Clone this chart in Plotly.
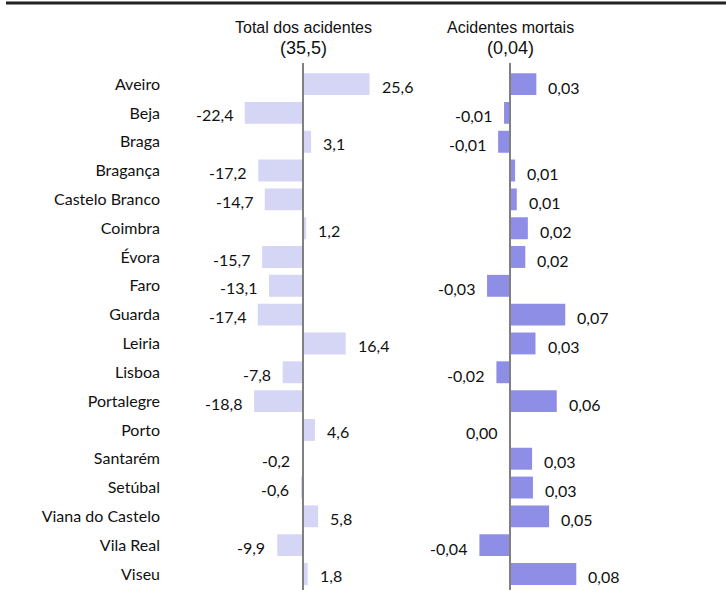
import plotly.graph_objects as go

districts = ["Aveiro", "Beja", "Braga", "Bragança", "Castelo Branco", "Coimbra", "Évora", "Faro",
             "Guarda", "Leiria", "Lisboa", "Portalegre", "Porto", "Santarém", "Setúbal",
             "Viana do Castelo", "Vila Real", "Viseu"]
total_acidentes = [25.6, -22.4, 3.1, -17.2, -14.7, 1.2, -15.7, -13.1, -17.4, 16.4, -7.8, -18.8,
                   4.6, -0.2, -0.6, 5.8, -9.9, 1.8]
acidentes_mortais = [0.031, -0.007, -0.014, 0.006, 0.008, 0.021, 0.018, -0.027, 0.065, 0.030,
                     -0.016, 0.055, -0.001, 0.026, 0.027, 0.046, -0.036, 0.078]
title_total = "Total dos acidentes<br><span style='font-size:18px'>(35,5)</span>"
title_mortais = "Acidentes mortais<br><span style='font-size:18px'>(0,04)</span>"

W, H = 726, 595
LIGHT = "#D5D5F5"
DARK = "#8E8EE6"
AXC = "#808080"
LABEL_FONT = dict(family="Lato, Open Sans, sans-serif", size=16, color="#111111")
TITLE_FONT = dict(family="Liberation Sans, Arial, sans-serif", size=16, color="#111111")

def fmt(v, d):
    return f"{v:.{d}f}".replace(".", ",")

fig = go.Figure()
fig.add_trace(go.Bar(x=total_acidentes, y=districts, orientation="h", marker_color=LIGHT,
                     marker_line_width=0, xaxis="x", yaxis="y", showlegend=False))
fig.add_trace(go.Bar(x=acidentes_mortais, y=districts, orientation="h", marker_color=DARK,
                     marker_line_width=0, xaxis="x2", yaxis="y", showlegend=False))

y_bottom = (H - 588.4) / H
y_top = (H - 69.6) / H

ann = []
for cat, v in zip(districts, total_acidentes):
    ann.append(dict(x=v, y=cat, xref="x", yref="y", text=fmt(v, 1), showarrow=False,
                    xanchor="left" if v >= 0 else "right", xshift=10 if v >= 0 else -10,
                    yshift=-2, font=LABEL_FONT))
for cat, v in zip(districts, acidentes_mortais):
    ann.append(dict(x=v, y=cat, xref="x2", yref="y", text=fmt(abs(v) if round(v, 2) == 0 else v, 2),
                    showarrow=False,
                    xanchor="left" if v >= 0 else "right", xshift=10 if v >= 0 else -10,
                    yshift=-3, font=LABEL_FONT))
ann.append(dict(x=0, y=y_top, xref="x", yref="paper", yanchor="bottom", text=title_total,
                showarrow=False, yshift=10, font=TITLE_FONT))
ann.append(dict(x=0, y=y_top, xref="x2", yref="paper", yanchor="bottom", text=title_mortais,
                showarrow=False, yshift=10, font=TITLE_FONT))

shapes = [
    dict(type="line", xref="x", yref="paper", x0=0, x1=0, y0=(H - 590) / H, y1=(H - 63) / H,
         line=dict(color=AXC, width=2)),
    dict(type="line", xref="x2", yref="paper", x0=0, x1=0, y0=(H - 590) / H, y1=(H - 63) / H,
         line=dict(color=AXC, width=2)),
    dict(type="line", xref="paper", yref="paper", x0=6 / W, x1=1, y0=(H - 3) / H, y1=(H - 3) / H,
         line=dict(color="#222222", width=3)),
]

fig.update_layout(
    width=W, height=H,
    margin=dict(l=0, r=0, t=0, b=0),
    paper_bgcolor="white", plot_bgcolor="white",
    bargap=0.24,
    xaxis=dict(domain=[165 / W, 445 / W], range=[-(303 - 165) / 2.6, (445 - 303) / 2.6],
               showgrid=False, zeroline=False, showticklabels=False, showline=False),
    xaxis2=dict(domain=[450 / W, 720 / W], range=[-(510 - 450) / 850, (720 - 510) / 850],
                showgrid=False, zeroline=False, showticklabels=False, showline=False),
    yaxis=dict(domain=[y_bottom, y_top], autorange="reversed", categoryorder="array",
               categoryarray=districts, showgrid=False, zeroline=False, showline=False,
               ticks="", tickfont=LABEL_FONT, anchor="x", ticklabelstandoff=4),
    annotations=ann,
    shapes=shapes,
)

fig.write_html("out.html")
